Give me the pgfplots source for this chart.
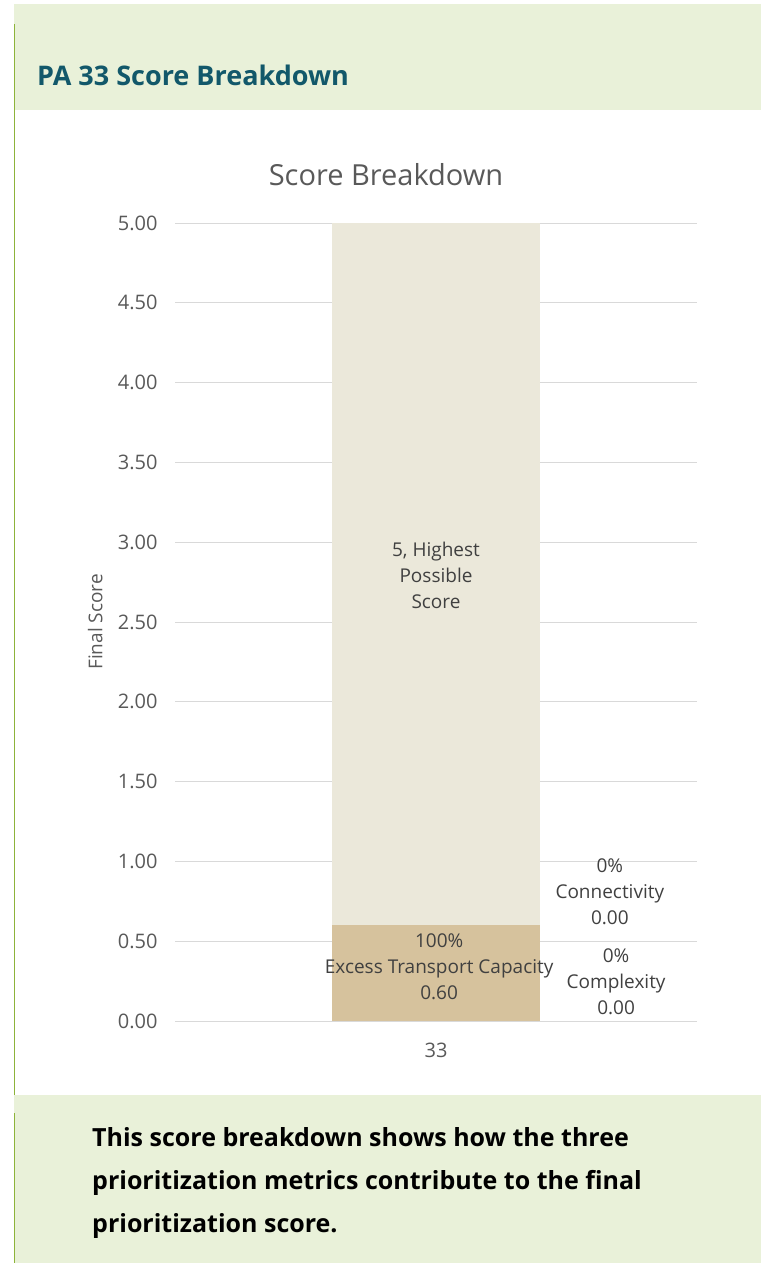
\documentclass[border=0pt]{standalone}
\usepackage{fontspec}
\setmainfont{Open Sans}
\usepackage{pgfplots}
\pgfplotsset{compat=1.18}
\definecolor{bandgreen}{HTML}{E9F1D9}
\definecolor{linegreen}{HTML}{8DB33A}
\definecolor{headteal}{HTML}{12586A}
\definecolor{txtgray}{HTML}{595959}
\definecolor{lblgray}{HTML}{404040}
\definecolor{gridgray}{HTML}{D9D9D9}
\definecolor{tanbar}{HTML}{D6C29D}
\definecolor{lightbar}{HTML}{EBE8DA}
\begin{document}
\begin{tikzpicture}[x=1pt,y=1pt]
\path[use as bounding box] (0,0) rectangle (761,-1263);
% header and footer bands
\fill[bandgreen] (14,-4) rectangle (761,-110);
\fill[bandgreen] (14,-1095) rectangle (761,-1263);
\draw[linegreen, line width=1pt] (14,-24) -- (14,-1095);
\draw[linegreen, line width=1pt] (14,-1113) -- (14,-1263);
\node[anchor=base west, inner sep=0pt, text=headteal, font=\bfseries\fontsize{27}{30}\selectfont] at (37,-85) {PA 33 Score Breakdown};
\node[text=txtgray, font=\fontsize{29}{32}\selectfont] at (386,-175) {Score Breakdown};

\begin{axis}[
    at={(175pt,-1021pt)}, anchor=south west,
    scale only axis, width=522pt, height=798pt,
    xmin=-0.5, xmax=0.5, ymin=0, ymax=5,
    ybar stacked, bar width=208pt,
    xtick={0}, xticklabels={33},
    ytick={0,0.5,...,5},
    ymajorgrids, grid style={gridgray, line width=1pt},
    axis line style={draw=none}, major tick style={draw=none},
    ticklabel style={text=txtgray, font=\fontsize{20}{24}\selectfont},
    /pgf/number format/assume math mode=true,
    yticklabel style={xshift=-14pt, /pgf/number format/fixed, /pgf/number format/fixed zerofill, /pgf/number format/precision=2},
    xticklabel style={yshift=-18pt},
    ylabel={Final Score},
    ylabel style={at={(axis description cs:-0.153,0.5)}, anchor=center, text=txtgray, font=\fontsize{19}{22}\selectfont},
    clip=false,
]
\addplot[fill=tanbar, draw=none] coordinates {(0,0.6)};   % Excess Transport Capacity
\addplot[fill=tanbar, draw=none] coordinates {(0,0)};     % Complexity
\addplot[fill=tanbar, draw=none] coordinates {(0,0)};     % Connectivity
\addplot[fill=lightbar, draw=none] coordinates {(0,4.4)}; % up to highest possible score 5
\coordinate (lexcess) at (axis cs:0.006,0.338);
\coordinate (lcomplex) at (axis cs:0.345,0.244);
\coordinate (lconnect) at (axis cs:0.333,0.808);
\coordinate (lmax) at (axis cs:0,2.795);
\end{axis}
\begin{scope}[every node/.style={align=center, text=lblgray, font=\fontsize{19}{26}\selectfont}]
\node at (lexcess) {100\%\\Excess Transport Capacity\\0.60};
\node at (lcomplex) {0\%\\Complexity\\0.00};
\node at (lconnect) {0\%\\Connectivity\\0.00};
\node at (lmax) {5, Highest\\Possible\\Score};
\end{scope}

\begin{scope}[every node/.style={anchor=base west, inner sep=0pt, font=\bfseries\fontsize{25}{30}\selectfont}]
\node at (92,-1146) {This score breakdown shows how the three};
\node at (92,-1189) {prioritization metrics contribute to the final};
\node at (92,-1232) {prioritization score.};
\end{scope}
\end{tikzpicture}
\end{document}
